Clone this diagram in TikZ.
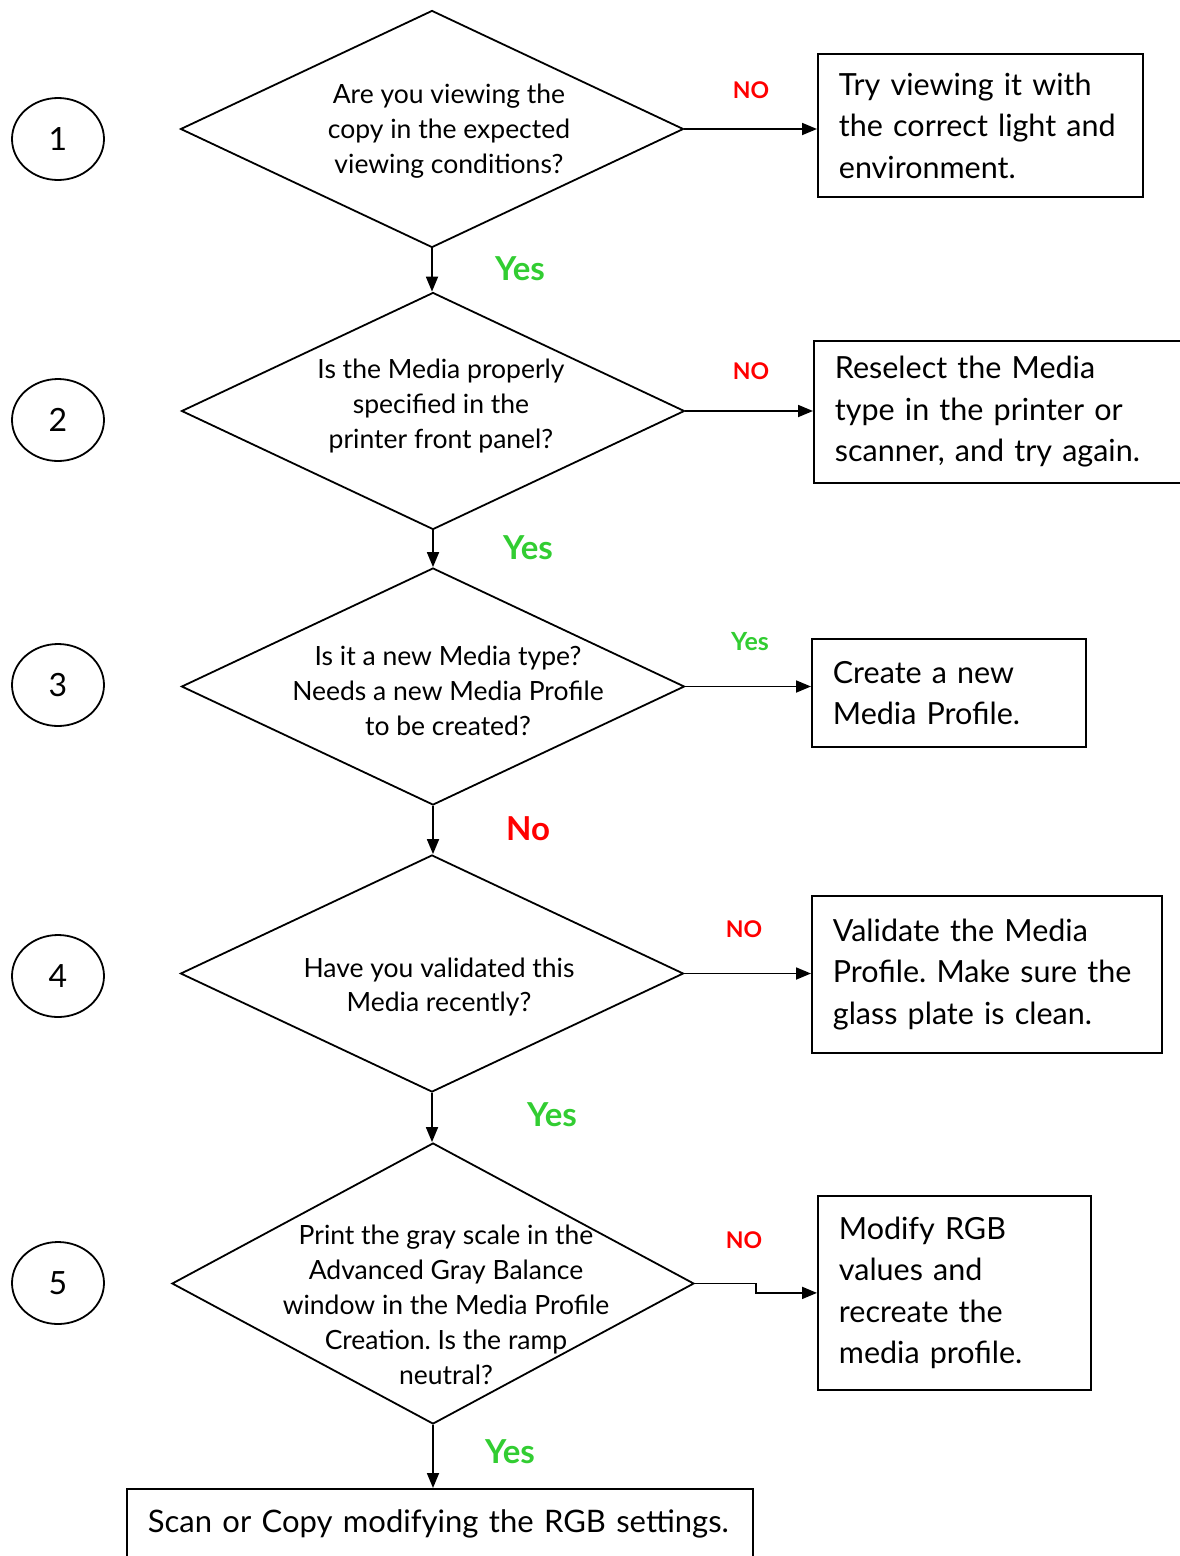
\documentclass[tikz,border=0pt]{standalone}
\usepackage{fontspec}
\setmainfont{Lato}
\frenchspacing
\usetikzlibrary{shapes.geometric,arrows.meta}
\definecolor{yesgreen}{RGB}{50,205,50}
\definecolor{nored}{RGB}{255,0,0}

\begin{document}
\begin{tikzpicture}[x=1pt,y=-1pt,line width=1.8pt,
    decision/.style={draw,diamond,inner sep=0pt,minimum width=503pt,minimum height=237pt},
    qtext/.style={align=center,inner sep=0pt,font=\fontsize{26.5}{35}\selectfont},
    action/.style={draw,rectangle,anchor=north west,align=left,inner xsep=21pt,inner ysep=0pt,font=\fontsize{30.5}{41.5}\selectfont},
    stepnum/.style={draw,ellipse,minimum width=92pt,minimum height=82pt,font=\fontsize{32}{32}\selectfont},
    arr/.style={-{Triangle[length=15pt,width=12pt]}},
    yeslabel/.style={text=yesgreen,font=\fontsize{33}{33}\bfseries},
    nolabel/.style={text=nored,font=\fontsize{23}{23}\bfseries}]
    \useasboundingbox (0,0) rectangle (1179,1556);

    % step numbers
    \foreach \n/\y in {1/139, 2/420, 3/685, 4/976, 5/1283}
        \node[stepnum] (c\n) at (58,\y) {\n};

    % questions
    \node[decision] (d1) at (432,129) {};
    \node[decision] (d2) at (433,411) {};
    \node[decision] (d3) at (433,686.5) {};
    \node[decision] (d4) at (432,973.5) {};
    \node[decision,minimum width=522pt,minimum height=281pt] (d5) at (433,1283.5) {};

    \node[qtext] (t1) at (449,131) {Are you viewing the\\copy in the expected\\viewing conditions?};
    \node[qtext] (t2) at (441,406) {Is the Media properly\\specified in the\\printer front panel?};
    \node[qtext] (t3) at (448,691) {Is it a new Media type?\\Needs a new Media Profile\\to be created?};
    \node[qtext] (t4) at (439,987) {Have you validated this\\Media recently?};
    \node[qtext] (t5) at (446,1305) {Print the gray scale in the\\Advanced Gray Balance\\window in the Media Profile\\Creation. Is the ramp\\neutral?};

    % actions
    \node[action,text width=283pt,minimum height=143pt] (b1) at (817,53)
        {Try viewing it with\\the correct light and\\environment.};
    \node[action,text width=338pt,minimum height=142pt] (b2) at (813,340)
        {Reselect the Media\\type in the printer or\\scanner, and try again.};
    \node[action,text width=232pt,minimum height=108pt] (b3) at (811,638)
        {Create a new\\Media Profile.};
    \node[action,text width=308pt,minimum height=157pt] (b4) at (811,895)
        {Validate the Media\\Profile. Make sure the\\glass plate is clean.};
    \node[action,text width=231pt,minimum height=194pt] (b5) at (817,1195)
        {Modify RGB\\values and\\recreate the\\media profile.};
    \node[action,text width=584pt,minimum height=70pt,font=\fontsize{31}{41.5}\selectfont] (b6) at (126,1488)
        {Scan or Copy modifying the RGB settings.};

    % connectors
    \draw[arr] (d1.south) -- (d1.south |- d2.north);
    \draw[arr] (d2.south) -- (d2.south |- d3.north);
    \draw[arr] (d3.south) -- (d3.south |- d4.north);
    \draw[arr] (d4.south) -- (d4.south |- d5.north);
    \draw[arr] (d5.south) -- (d5.south |- b6.north);

    \draw[arr] (d1.east) -- (d1.east -| b1.west);
    \draw[arr] (d2.east) -- (d2.east -| b2.west);
    \draw[arr] (d3.east) -- (d3.east -| b3.west);
    \draw[arr] (d4.east) -- (d4.east -| b4.west);
    \draw[arr] (d5.east) -- ++(61,0) |- (b5.west);

    % answers
    \node[nolabel] (n1) at (751,90) {NO};
    \node[nolabel] (n2) at (751,371) {NO};
    \node[nolabel] (n4) at (744,929) {NO};
    \node[nolabel] (n5) at (744,1240) {NO};
    \node[yeslabel] (y1) at (520,269) {Yes};
    \node[yeslabel] (y2) at (528,548) {Yes};
    \node[yeslabel,font=\fontsize{25}{25}\bfseries] (y3) at (750,642) {Yes};
    \node[yeslabel,text=nored] (n3) at (528,829) {No};
    \node[yeslabel] (y4) at (552,1115) {Yes};
    \node[yeslabel] (y5) at (510,1452) {Yes};

\end{tikzpicture}
\end{document}
